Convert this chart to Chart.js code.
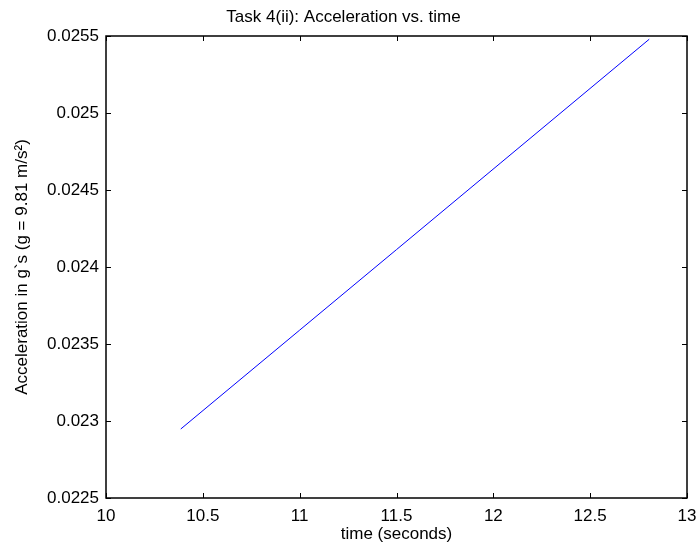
<!DOCTYPE html>
<html>
<head>
<meta charset="utf-8">
<script src="https://cdn.jsdelivr.net/npm/chart.js@4/dist/chart.umd.min.js"></script>
<style>
  html, body { margin: 0; padding: 0; background: #fff; }
  #wrap { width: 699px; height: 554px; }
</style>
</head>
<body>
<div id="wrap"><canvas id="myChart" width="699" height="554"></canvas></div>
<script>
// values
const timeSec = [10.386, 11.0, 11.5, 12.035, 12.805];
const accelG = [0.022948, 0.02359, 0.024113, 0.024673, 0.025479];

const xTicks = [10, 10.5, 11, 11.5, 12, 12.5, 13];
const xTickLabels = ['10', '10.5', '11', '11.5', '12', '12.5', '13'];
const yTicks = [0.0225, 0.023, 0.0235, 0.024, 0.0245, 0.025, 0.0255];
const yTickLabels = ['0.0225', '0.023', '0.0235', '0.024', '0.0245', '0.025', '0.0255'];

const FONT = 'Liberation Sans, Arial, sans-serif';

// matlab style box with inward ticks
const boxTicks = {
	id: 'boxTicks',
	afterDraw(chart) {
		const ctx = chart.ctx;
		const a = chart.chartArea;
		const xs = chart.scales.x, ys = chart.scales.y;
		const len = 5;
		ctx.save();
		ctx.strokeStyle = '#000';
		ctx.lineWidth = 1;
		ctx.beginPath();
		xTicks.forEach(v => {
			const px = Math.round(xs.getPixelForValue(v)) + 0.5;
			ctx.moveTo(px, a.bottom); ctx.lineTo(px, a.bottom - len);
			ctx.moveTo(px, a.top); ctx.lineTo(px, a.top + len);
		});
		yTicks.forEach(v => {
			const py = Math.round(ys.getPixelForValue(v)) + 0.5;
			ctx.moveTo(a.left, py); ctx.lineTo(a.left + len, py);
			ctx.moveTo(a.right, py); ctx.lineTo(a.right - len, py);
		});
		ctx.stroke();
		ctx.lineWidth = 1.5;
		ctx.strokeRect(a.left, a.top, a.right - a.left, a.bottom - a.top);
		ctx.restore();
	}
};

new Chart(document.getElementById('myChart').getContext('2d'), {
	type: 'line',
	data: {
		datasets: [{
			data: timeSec.map((t, i) => ({ x: t, y: accelG[i] })),
			borderColor: '#0000ff',
			borderWidth: 1,
			pointRadius: 0,
			fill: false,
			tension: 0
		}]
	},
	options: {
		responsive: false,
		animation: false,
		layout: { padding: { left: 0, right: 12, top: 0, bottom: 0 } },
		plugins: {
			legend: { display: false },
			tooltip: { enabled: false },
			title: {
				display: true,
				text: 'Task 4(ii): Acceleration vs. time',
				color: '#000',
				font: { family: FONT, size: 17, weight: 'normal' },
				padding: { top: 7, bottom: 8.6 }
			}
		},
		scales: {
			x: {
				type: 'linear',
				min: 10,
				max: 13,
				afterBuildTicks: s => { s.ticks = xTicks.map(v => ({ value: v })); },
				afterFit: s => { s.height = 56; s.paddingLeft = 0; s.paddingRight = 0; },
				grid: { display: false, drawTicks: false },
				border: { display: false },
				ticks: {
					color: '#000',
					padding: 8,
					font: { family: FONT, size: 17 },
					maxRotation: 0,
					callback: (v, i) => xTickLabels[i]
				},
				title: {
					display: true,
					text: 'time (seconds)',
					color: '#000',
					font: { family: FONT, size: 17 },
					padding: { top: 0, bottom: 9 }
				}
			},
			y: {
				type: 'linear',
				min: 0.0225,
				max: 0.0255,
				afterBuildTicks: s => { s.ticks = yTicks.map(v => ({ value: v })); },
				afterFit: s => { s.width = 106; s.paddingTop = 0; s.paddingBottom = 0; },
				grid: { display: false, drawTicks: false },
				border: { display: false },
				ticks: {
					color: '#000',
					padding: 7,
					font: { family: FONT, size: 17 },
					callback: (v, i) => yTickLabels[i]
				},
				title: {
					display: true,
					text: 'Acceleration in g`s (g = 9.81 m/s²)',
					color: '#000',
					font: { family: FONT, size: 17 },
					padding: { top: 12, bottom: 0 }
				}
			}
		}
	},
	plugins: [boxTicks]
});
</script>
</body>
</html>
